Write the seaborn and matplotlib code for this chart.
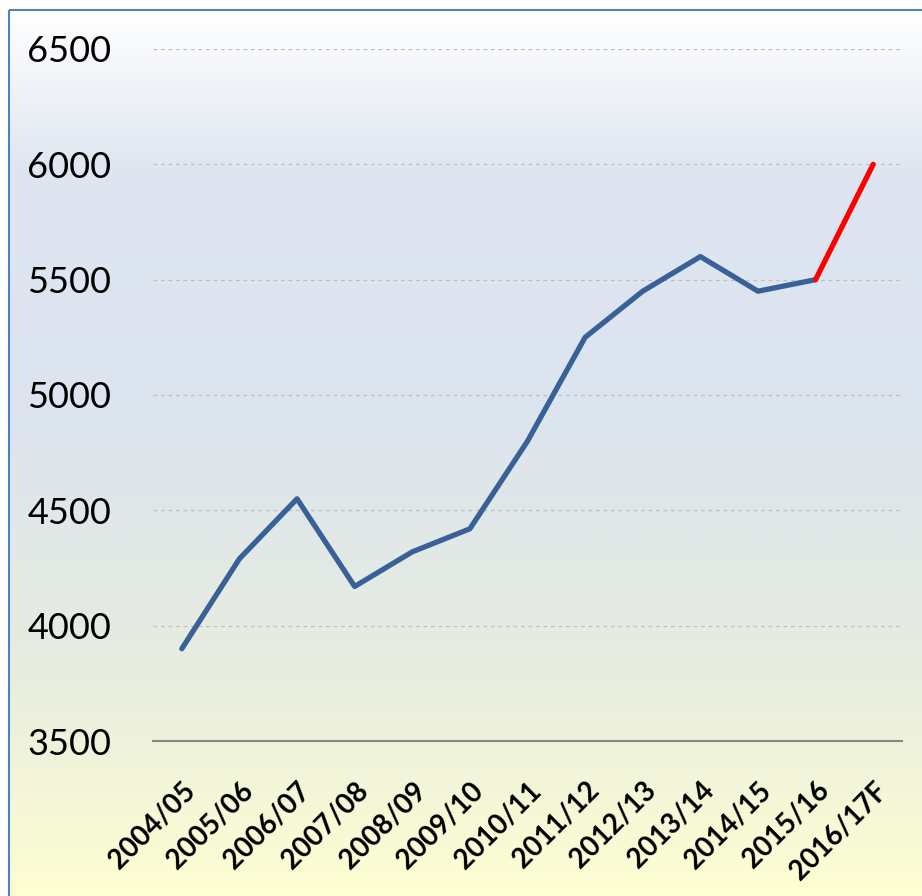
import numpy as np
import pandas as pd
import matplotlib
matplotlib.use("Agg")
import matplotlib.pyplot as plt
from matplotlib.colors import LinearSegmentedColormap
from matplotlib.patches import Rectangle
import seaborn as sns

categories = ["2004/05", "2005/06", "2006/07", "2007/08", "2008/09", "2009/10",
              "2010/11", "2011/12", "2012/13", "2013/14", "2014/15", "2015/16", "2016/17F"]
values = [3900, 4290, 4550, 4170, 4320, 4420, 4800, 5250, 5450, 5600, 5450, 5500, 6000]
y_ticks = [3500, 4000, 4500, 5000, 5500, 6000, 6500]

sns.set_theme(style="white")
plt.rcParams['font.family'] = ['Lato', 'DejaVu Sans']

W, H = 922, 896
fig = plt.figure(figsize=(W / 100, H / 100), dpi=100)
fig.patch.set_facecolor("white")

# background gradient panel
bg = fig.add_axes([0, 0, 1, 1], zorder=-5)
bg.set_xlim(0, W)
bg.set_ylim(H, 0)
bg.axis("off")
cmap = LinearSegmentedColormap.from_list("bgc", [
    (0.0, "#FFFFFF"), (0.18, "#DFE6F1"), (0.45, "#DCE4EF"),
    (0.75, "#E8EDDF"), (1.0, "#FFFFD2")])
grad = np.linspace(0, 1, 512).reshape(-1, 1)
bg.imshow(grad, cmap=cmap, aspect="auto", extent=[9, W + 5, H + 5, 10], zorder=0)
bg.add_patch(Rectangle((9, 10), W + 20, H + 20, fill=False, edgecolor="#4F81BD",
                       linewidth=1.5, zorder=2))

ax = fig.add_axes([153 / W, 1 - 741 / H, 749 / W, 692 / H])
ax.set_facecolor("none")

df = pd.DataFrame({"cat": categories, "val": values})
sns.lineplot(data=df.iloc[:-1], x="cat", y="val", sort=False, color="#386197",
             linewidth=3.8, ax=ax, solid_capstyle="round", solid_joinstyle="round")
sns.lineplot(data=df.iloc[-2:], x="cat", y="val", sort=False, color="#FF0000",
             linewidth=3.8, ax=ax, solid_capstyle="round")

ax.set_xlim(-0.5, len(categories) - 0.5)
ax.set_ylim(3500, 6500)
ax.set_yticks(y_ticks)
ax.set_yticklabels([str(v) for v in y_ticks], fontsize=26, color="black")
ax.tick_params(axis="y", length=0, pad=30)
ax.set_xticks(range(len(categories)))
ax.set_xticklabels(categories, rotation=45, ha="right", rotation_mode="anchor",
                   fontsize=20, fontweight="bold", color="black")
ax.tick_params(axis="x", length=0, pad=26)
ax.set_xlabel("")
ax.set_ylabel("")
for v in y_ticks[1:]:
    ax.axhline(v, color="#BFBFBF", linewidth=0.9, linestyle=(0, (3, 3)), zorder=0)
for s in ["top", "right", "left"]:
    ax.spines[s].set_visible(False)
ax.spines["bottom"].set_color("#868686")
ax.spines["bottom"].set_linewidth(1.5)

fig.savefig("out.png", dpi=100)
